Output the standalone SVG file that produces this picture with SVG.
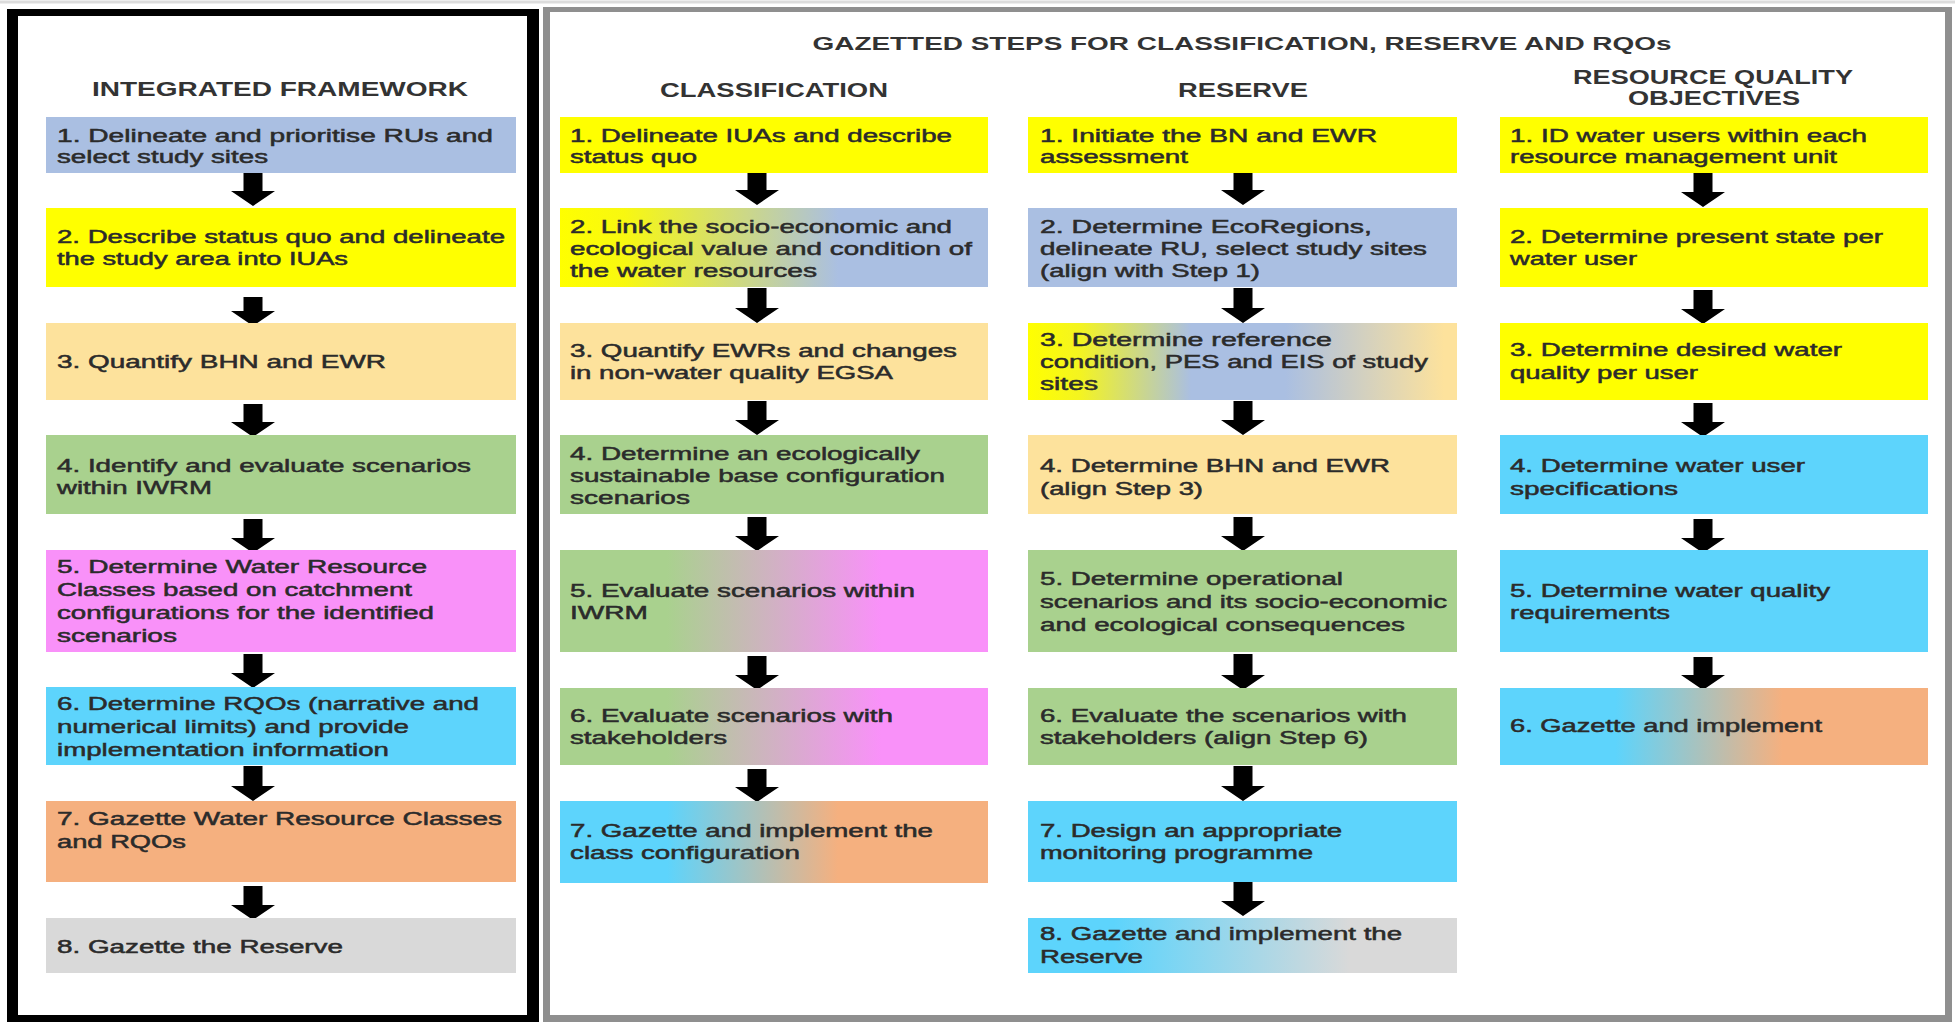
<svg xmlns="http://www.w3.org/2000/svg" width="1955" height="1022" viewBox="0 0 1955 1022">
<style>
.t{font-family:"Liberation Sans",Arial,sans-serif;font-size:18px;fill:#2b2b2b;stroke:#2b2b2b;stroke-width:0.5}
.h{font-family:"Liberation Sans",Arial,sans-serif;font-size:20px;font-weight:bold;fill:#333;text-anchor:middle}
.blue{fill:#aabfe2}.yel{fill:#ffff00}.lor{fill:#fde29c}.grn{fill:#a9d18e}.pnk{fill:#f991f9}.cyn{fill:#5dd4fc}.org{fill:#f5b07f}.gry{fill:#d9d9d9}
.arr{fill:#000}
</style>
<defs>
<linearGradient id="gYB" x1="0" y1="0" x2="1" y2="0"><stop offset="0" stop-color="#ffff00"/><stop offset="0.15" stop-color="#f8f810"/><stop offset="0.65" stop-color="#aabfe2"/><stop offset="1" stop-color="#aabfe2"/></linearGradient>
<linearGradient id="gGP" x1="0" y1="0" x2="1" y2="0"><stop offset="0" stop-color="#a9d18e"/><stop offset="0.25" stop-color="#a9d18e"/><stop offset="0.75" stop-color="#f991f9"/><stop offset="1" stop-color="#f991f9"/></linearGradient>
<linearGradient id="gCO" x1="0" y1="0" x2="1" y2="0"><stop offset="0" stop-color="#5dd4fc"/><stop offset="0.25" stop-color="#5dd4fc"/><stop offset="0.65" stop-color="#f5b07f"/><stop offset="1" stop-color="#f5b07f"/></linearGradient>
<linearGradient id="gYBO" x1="0" y1="0" x2="1" y2="0"><stop offset="0" stop-color="#ffff00"/><stop offset="0.12" stop-color="#f4f420"/><stop offset="0.38" stop-color="#aabfe2"/><stop offset="0.6" stop-color="#aabfe2"/><stop offset="0.97" stop-color="#fde29c"/><stop offset="1" stop-color="#fde29c"/></linearGradient>
<linearGradient id="gCG" x1="0" y1="0" x2="1" y2="0"><stop offset="0" stop-color="#5dd4fc"/><stop offset="0.2" stop-color="#5dd4fc"/><stop offset="0.75" stop-color="#d9d9d9"/><stop offset="1" stop-color="#d9d9d9"/></linearGradient>
<linearGradient id="gCO2" x1="0" y1="0" x2="1" y2="0"><stop offset="0" stop-color="#5dd4fc"/><stop offset="0.27" stop-color="#5dd4fc"/><stop offset="0.66" stop-color="#f5b07f"/><stop offset="1" stop-color="#f5b07f"/></linearGradient>
</defs>
<rect x="0" y="0" width="1955" height="1022" fill="#fff"/>
<line x1="0" y1="2" x2="1955" y2="2" stroke="#dcdcdc" stroke-width="3"/>
<g id="frame-left"><rect x="7" y="9" width="532" height="1013" fill="#000"/><rect x="18" y="16" width="509" height="999" fill="#fff"/></g>
<g id="frame-right"><rect x="543" y="7" width="1409" height="1015" fill="#8f8f8f"/><rect x="550" y="12" width="1395" height="1003" fill="#fff"/></g>

<g id="titles">
<text class="h" x="280" y="96" textLength="376" lengthAdjust="spacingAndGlyphs">INTEGRATED FRAMEWORK</text>
<text class="h" x="1242" y="50" style="font-size:18px" textLength="859" lengthAdjust="spacingAndGlyphs">GAZETTED STEPS FOR CLASSIFICATION,  RESERVE AND RQOs</text>
<text class="h" x="774" y="97" textLength="228" lengthAdjust="spacingAndGlyphs">CLASSIFICATION</text>
<text class="h" x="1243" y="97" textLength="130" lengthAdjust="spacingAndGlyphs">RESERVE</text>
<text class="h" x="1713" y="84" textLength="280" lengthAdjust="spacingAndGlyphs">RESOURCE QUALITY</text>
<text class="h" x="1714" y="105" textLength="172" lengthAdjust="spacingAndGlyphs">OBJECTIVES</text>
</g>

<g id="connectors">
<path class="arr" d="M243.5,172H262.5V191H275L253,206L231,191H243.5Z"/>
<path class="arr" d="M243.5,297H262.5V311H275L253,326L231,311H243.5Z"/>
<path class="arr" d="M243.5,404H262.5V422H275L253,437L231,422H243.5Z"/>
<path class="arr" d="M243.5,519H262.5V538H275L253,553L231,538H243.5Z"/>
<path class="arr" d="M243.5,654H262.5V673H275L253,688L231,673H243.5Z"/>
<path class="arr" d="M243.5,766H262.5V786H275L253,801L231,786H243.5Z"/>
<path class="arr" d="M243.5,886H262.5V905H275L253,920L231,905H243.5Z"/>

<path class="arr" d="M747.5,172H766.5V190H779L757,205L735,190H747.5Z"/>
<path class="arr" d="M747.5,288H766.5V308H779L757,323L735,308H747.5Z"/>
<path class="arr" d="M747.5,401H766.5V420H779L757,435L735,420H747.5Z"/>
<path class="arr" d="M747.5,517H766.5V536H779L757,551L735,536H747.5Z"/>
<path class="arr" d="M747.5,656H766.5V675H779L757,690L735,675H747.5Z"/>
<path class="arr" d="M747.5,769H766.5V787H779L757,802L735,787H747.5Z"/>

<path class="arr" d="M1233.5,172H1252.5V190H1265L1243,205L1221,190H1233.5Z"/>
<path class="arr" d="M1233.5,288H1252.5V308H1265L1243,323L1221,308H1233.5Z"/>
<path class="arr" d="M1233.5,401H1252.5V420H1265L1243,435L1221,420H1233.5Z"/>
<path class="arr" d="M1233.5,517H1252.5V536H1265L1243,551L1221,536H1233.5Z"/>
<path class="arr" d="M1233.5,654H1252.5V675H1265L1243,690L1221,675H1233.5Z"/>
<path class="arr" d="M1233.5,766H1252.5V786H1265L1243,801L1221,786H1233.5Z"/>
<path class="arr" d="M1233.5,882H1252.5V901H1265L1243,916L1221,901H1233.5Z"/>

<path class="arr" d="M1693.5,172H1712.5V192H1725L1703,207L1681,192H1693.5Z"/>
<path class="arr" d="M1693.5,290H1712.5V309H1725L1703,324L1681,309H1693.5Z"/>
<path class="arr" d="M1693.5,403H1712.5V422H1725L1703,437L1681,422H1693.5Z"/>
<path class="arr" d="M1693.5,519H1712.5V538H1725L1703,553L1681,538H1693.5Z"/>
<path class="arr" d="M1693.5,657H1712.5V675H1725L1703,690L1681,675H1693.5Z"/>
</g>

<!-- Integrated framework -->
<g id="if1"><rect class="blue" x="46" y="117" width="470" height="56"/>
<text class="t" x="57" y="142" textLength="436" lengthAdjust="spacingAndGlyphs">1.  Delineate and prioritise RUs and</text>
<text class="t" x="57" y="163" textLength="211" lengthAdjust="spacingAndGlyphs">select study sites</text></g>
<g id="if2"><rect class="yel" x="46" y="208" width="470" height="79"/>
<text class="t" x="57" y="243" textLength="448" lengthAdjust="spacingAndGlyphs">2. Describe status quo and delineate</text>
<text class="t" x="57" y="265" textLength="291" lengthAdjust="spacingAndGlyphs">the study area into IUAs</text></g>
<g id="if3"><rect class="lor" x="46" y="323" width="470" height="77"/>
<text class="t" x="57" y="368" textLength="329" lengthAdjust="spacingAndGlyphs">3. Quantify BHN and EWR</text></g>
<g id="if4"><rect class="grn" x="46" y="435" width="470" height="79"/>
<text class="t" x="57" y="472" textLength="414" lengthAdjust="spacingAndGlyphs">4. Identify and evaluate scenarios</text>
<text class="t" x="57" y="494" textLength="155" lengthAdjust="spacingAndGlyphs">within IWRM</text></g>
<g id="if5"><rect class="pnk" x="46" y="550" width="470" height="102"/>
<text class="t" x="57" y="573" textLength="370" lengthAdjust="spacingAndGlyphs">5. Determine Water Resource</text>
<text class="t" x="57" y="596" textLength="355" lengthAdjust="spacingAndGlyphs">Classes based on catchment</text>
<text class="t" x="57" y="619" textLength="377" lengthAdjust="spacingAndGlyphs">configurations for the identified</text>
<text class="t" x="57" y="642" textLength="120" lengthAdjust="spacingAndGlyphs">scenarios</text></g>
<g id="if6"><rect class="cyn" x="46" y="687" width="470" height="78"/>
<text class="t" x="57" y="710" textLength="422" lengthAdjust="spacingAndGlyphs">6. Determine RQOs (narrative and</text>
<text class="t" x="57" y="733" textLength="352" lengthAdjust="spacingAndGlyphs">numerical limits) and provide</text>
<text class="t" x="57" y="756" textLength="332" lengthAdjust="spacingAndGlyphs">implementation  information</text></g>
<g id="if7"><rect class="org" x="46" y="801" width="470" height="81"/>
<text class="t" x="57" y="825" textLength="445" lengthAdjust="spacingAndGlyphs">7. Gazette Water Resource Classes</text>
<text class="t" x="57" y="848" textLength="129" lengthAdjust="spacingAndGlyphs">and RQOs</text></g>
<g id="if8"><rect class="gry" x="46" y="918" width="470" height="55"/>
<text class="t" x="57" y="953" textLength="286" lengthAdjust="spacingAndGlyphs">8. Gazette the Reserve</text></g>

<!-- Classification -->
<g id="c1"><rect class="yel" x="560" y="117" width="428" height="56"/>
<text class="t" x="570" y="142" textLength="382" lengthAdjust="spacingAndGlyphs">1. Delineate IUAs and describe</text>
<text class="t" x="570" y="163" textLength="127" lengthAdjust="spacingAndGlyphs">status quo</text></g>
<g id="c2"><rect fill="url(#gYB)" x="560" y="208" width="428" height="79"/>
<text class="t" x="570" y="233" textLength="382" lengthAdjust="spacingAndGlyphs">2. Link the socio-economic and</text>
<text class="t" x="570" y="255" textLength="402" lengthAdjust="spacingAndGlyphs">ecological value and condition of</text>
<text class="t" x="570" y="277" textLength="247" lengthAdjust="spacingAndGlyphs">the water resources</text></g>
<g id="c3"><rect class="lor" x="560" y="323" width="428" height="77"/>
<text class="t" x="570" y="357" textLength="387" lengthAdjust="spacingAndGlyphs">3. Quantify EWRs and changes</text>
<text class="t" x="570" y="379" textLength="323" lengthAdjust="spacingAndGlyphs">in non-water quality EGSA</text></g>
<g id="c4"><rect class="grn" x="560" y="435" width="428" height="79"/>
<text class="t" x="570" y="460" textLength="350" lengthAdjust="spacingAndGlyphs">4. Determine an ecologically</text>
<text class="t" x="570" y="482" textLength="375" lengthAdjust="spacingAndGlyphs">sustainable base configuration</text>
<text class="t" x="570" y="504" textLength="120" lengthAdjust="spacingAndGlyphs">scenarios</text></g>
<g id="c5"><rect fill="url(#gGP)" x="560" y="550" width="428" height="102"/>
<text class="t" x="570" y="597" textLength="345" lengthAdjust="spacingAndGlyphs">5. Evaluate scenarios within</text>
<text class="t" x="570" y="619" textLength="78" lengthAdjust="spacingAndGlyphs">IWRM</text></g>
<g id="c6"><rect fill="url(#gGP)" x="560" y="688" width="428" height="77"/>
<text class="t" x="570" y="722" textLength="323" lengthAdjust="spacingAndGlyphs">6. Evaluate scenarios with</text>
<text class="t" x="570" y="744" textLength="157" lengthAdjust="spacingAndGlyphs">stakeholders</text></g>
<g id="c7"><rect fill="url(#gCO)" x="560" y="801" width="428" height="82"/>
<text class="t" x="570" y="837" textLength="363" lengthAdjust="spacingAndGlyphs">7. Gazette and implement  the</text>
<text class="t" x="570" y="859" textLength="230" lengthAdjust="spacingAndGlyphs">class configuration</text></g>

<!-- Reserve -->
<g id="r1"><rect class="yel" x="1028" y="117" width="429" height="56"/>
<text class="t" x="1040" y="142" textLength="337" lengthAdjust="spacingAndGlyphs">1.  Initiate the BN and EWR</text>
<text class="t" x="1040" y="163" textLength="148" lengthAdjust="spacingAndGlyphs">assessment</text></g>
<g id="r2"><rect class="blue" x="1028" y="208" width="429" height="79"/>
<text class="t" x="1040" y="233" textLength="332" lengthAdjust="spacingAndGlyphs">2.  Determine EcoRegions,</text>
<text class="t" x="1040" y="255" textLength="387" lengthAdjust="spacingAndGlyphs">delineate RU, select study sites</text>
<text class="t" x="1040" y="277" textLength="220" lengthAdjust="spacingAndGlyphs">(align with Step 1)</text></g>
<g id="r3"><rect fill="url(#gYBO)" x="1028" y="323" width="429" height="77"/>
<text class="t" x="1040" y="346" textLength="292" lengthAdjust="spacingAndGlyphs">3.  Determine reference</text>
<text class="t" x="1040" y="368" textLength="388" lengthAdjust="spacingAndGlyphs">condition, PES and EIS of study</text>
<text class="t" x="1040" y="390" textLength="58" lengthAdjust="spacingAndGlyphs">sites</text></g>
<g id="r4"><rect class="lor" x="1028" y="435" width="429" height="79"/>
<text class="t" x="1040" y="472" textLength="350" lengthAdjust="spacingAndGlyphs">4. Determine BHN  and EWR</text>
<text class="t" x="1040" y="495" textLength="163" lengthAdjust="spacingAndGlyphs">(align Step 3)</text></g>
<g id="r5"><rect class="grn" x="1028" y="550" width="429" height="102"/>
<text class="t" x="1040" y="585" textLength="303" lengthAdjust="spacingAndGlyphs">5. Determine operational</text>
<text class="t" x="1040" y="608" textLength="407" lengthAdjust="spacingAndGlyphs">scenarios and its socio-economic</text>
<text class="t" x="1040" y="631" textLength="365" lengthAdjust="spacingAndGlyphs">and ecological consequences</text></g>
<g id="r6"><rect class="grn" x="1028" y="688" width="429" height="77"/>
<text class="t" x="1040" y="722" textLength="367" lengthAdjust="spacingAndGlyphs">6. Evaluate the scenarios with</text>
<text class="t" x="1040" y="744" textLength="328" lengthAdjust="spacingAndGlyphs">stakeholders (align  Step 6)</text></g>
<g id="r7"><rect class="cyn" x="1028" y="801" width="429" height="81"/>
<text class="t" x="1040" y="837" textLength="302" lengthAdjust="spacingAndGlyphs">7. Design an appropriate</text>
<text class="t" x="1040" y="859" textLength="273" lengthAdjust="spacingAndGlyphs">monitoring programme</text></g>
<g id="r8"><rect fill="url(#gCG)" x="1028" y="918" width="429" height="55"/>
<text class="t" x="1040" y="940" textLength="362" lengthAdjust="spacingAndGlyphs">8. Gazette and implement  the</text>
<text class="t" x="1040" y="963" textLength="103" lengthAdjust="spacingAndGlyphs">Reserve</text></g>

<!-- RQOs -->
<g id="q1"><rect class="yel" x="1500" y="117" width="428" height="56"/>
<text class="t" x="1510" y="142" textLength="357" lengthAdjust="spacingAndGlyphs">1. ID water users within each</text>
<text class="t" x="1510" y="163" textLength="327" lengthAdjust="spacingAndGlyphs">resource management unit</text></g>
<g id="q2"><rect class="yel" x="1500" y="208" width="428" height="79"/>
<text class="t" x="1510" y="243" textLength="373" lengthAdjust="spacingAndGlyphs">2. Determine present state per</text>
<text class="t" x="1510" y="265" textLength="127" lengthAdjust="spacingAndGlyphs">water user</text></g>
<g id="q3"><rect class="yel" x="1500" y="323" width="428" height="77"/>
<text class="t" x="1510" y="356" textLength="332" lengthAdjust="spacingAndGlyphs">3. Determine desired water</text>
<text class="t" x="1510" y="379" textLength="188" lengthAdjust="spacingAndGlyphs">quality per user</text></g>
<g id="q4"><rect class="cyn" x="1500" y="435" width="428" height="79"/>
<text class="t" x="1510" y="472" textLength="295" lengthAdjust="spacingAndGlyphs">4. Determine water user</text>
<text class="t" x="1510" y="495" textLength="168" lengthAdjust="spacingAndGlyphs">specifications</text></g>
<g id="q5"><rect class="cyn" x="1500" y="550" width="428" height="102"/>
<text class="t" x="1510" y="597" textLength="320" lengthAdjust="spacingAndGlyphs">5. Determine water quality</text>
<text class="t" x="1510" y="619" textLength="160" lengthAdjust="spacingAndGlyphs">requirements</text></g>
<g id="q6"><rect fill="url(#gCO2)" x="1500" y="688" width="428" height="77"/>
<text class="t" x="1510" y="732" textLength="312" lengthAdjust="spacingAndGlyphs">6. Gazette and implement</text></g>
</svg>
